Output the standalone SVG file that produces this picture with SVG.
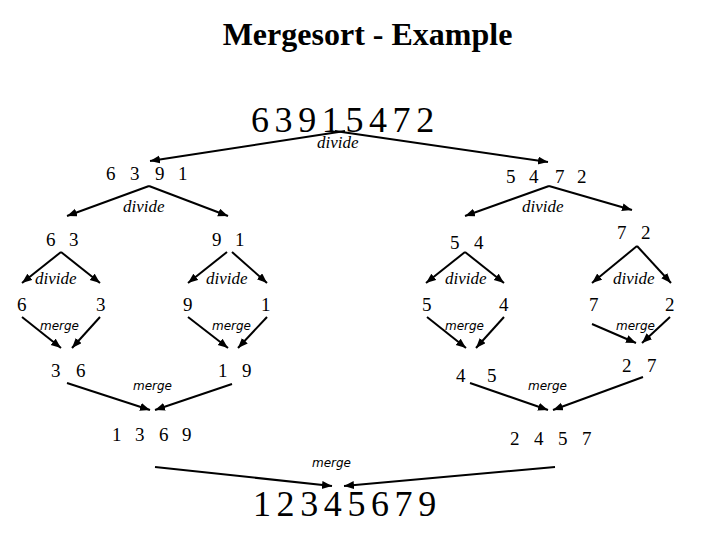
<svg xmlns="http://www.w3.org/2000/svg" width="720" height="540" viewBox="0 0 720 540">
<style>
.t{font-family:"Liberation Serif","Times New Roman",serif;fill:#000}
.n{font-family:"Liberation Serif","Times New Roman",serif;font-size:19px;fill:#000}
.big{font-family:"Liberation Serif","Times New Roman",serif;font-size:36px;letter-spacing:5.6px;fill:#000}
.dv{font-family:"Liberation Serif","Times New Roman",serif;font-style:italic;font-size:17px;fill:#000}
.mg{font-family:"DejaVu Sans","Verdana",sans-serif;font-style:italic;font-size:12px;fill:#000}
.c line{stroke:#000;stroke-width:2;marker-end:url(#ah)}
</style>
<defs>
<marker id="ah" markerUnits="userSpaceOnUse" markerWidth="12" markerHeight="10" refX="10" refY="4" orient="auto">
<path d="M0,0 L10,4 L0,8 Z" fill="#000"/>
</marker>
</defs>
<rect width="720" height="540" fill="#fff"/>
<text class="t" x="367.5" y="45" text-anchor="middle" font-size="32" font-weight="bold">Mergesort - Example</text>

<g class="c" id="connectors">
<line x1="345" y1="131" x2="150" y2="161"/>
<line x1="335" y1="131" x2="548" y2="162"/>
<line x1="149" y1="186" x2="67" y2="216"/>
<line x1="149" y1="186" x2="228" y2="216"/>
<line x1="549" y1="186" x2="465" y2="216"/>
<line x1="549" y1="186" x2="632" y2="210"/>
<line x1="61" y1="252" x2="22" y2="283"/>
<line x1="61" y1="252" x2="100" y2="283"/>
<line x1="227" y1="252" x2="188" y2="283"/>
<line x1="232" y1="252" x2="267" y2="283"/>
<line x1="465" y1="252" x2="426" y2="283"/>
<line x1="465" y1="252" x2="504" y2="283"/>
<line x1="637" y1="246" x2="592" y2="283"/>
<line x1="637" y1="246" x2="671" y2="283"/>
<line x1="22" y1="317" x2="61" y2="348"/>
<line x1="100" y1="317" x2="72" y2="348"/>
<line x1="188" y1="317" x2="228" y2="348"/>
<line x1="267" y1="317" x2="238" y2="348"/>
<line x1="427" y1="317" x2="466" y2="348"/>
<line x1="504" y1="317" x2="476" y2="348"/>
<line x1="592" y1="324" x2="636" y2="343"/>
<line x1="670" y1="317" x2="642" y2="343"/>
<line x1="67" y1="383" x2="150" y2="410"/>
<line x1="232" y1="384" x2="155" y2="410"/>
<line x1="470" y1="383" x2="548" y2="410"/>
<line x1="643" y1="377" x2="553" y2="410"/>
<line x1="155" y1="467" x2="332" y2="486"/>
<line x1="555" y1="467" x2="344" y2="486"/>
</g>

<g id="labels">
<text class="dv" x="317" y="148">divide</text>
<text class="dv" x="123" y="212">divide</text>
<text class="dv" x="522" y="212">divide</text>
<text class="dv" x="35" y="284">divide</text>
<text class="dv" x="206" y="284">divide</text>
<text class="dv" x="445" y="284">divide</text>
<text class="dv" x="613" y="284">divide</text>
<text class="mg" x="40" y="330">merge</text>
<text class="mg" x="212" y="330">merge</text>
<text class="mg" x="445" y="330">merge</text>
<text class="mg" x="616" y="330">merge</text>
<text class="mg" x="133" y="390">merge</text>
<text class="mg" x="528" y="390">merge</text>
<text class="mg" x="312" y="467">merge</text>
</g>

<g id="root"><text class="big" x="251" y="132">63915472</text></g>
<g id="n6391"><text class="n" x="106 130 155 178" y="180">6391</text></g>
<g id="n5472"><text class="n" x="506 529 555 577" y="183">5472</text></g>
<g id="n63"><text class="n" x="46 69" y="246">63</text></g>
<g id="n91"><text class="n" x="212 235" y="246">91</text></g>
<g id="n54"><text class="n" x="450 474" y="249">54</text></g>
<g id="n72"><text class="n" x="617 641" y="239">72</text></g>
<g id="n6"><text class="n" x="17" y="311">6</text></g>
<g id="n3"><text class="n" x="96" y="311">3</text></g>
<g id="n9"><text class="n" x="183" y="311">9</text></g>
<g id="n1"><text class="n" x="261" y="311">1</text></g>
<g id="n5"><text class="n" x="422" y="311">5</text></g>
<g id="n4"><text class="n" x="499" y="311">4</text></g>
<g id="n7"><text class="n" x="589" y="311">7</text></g>
<g id="n2"><text class="n" x="665" y="311">2</text></g>
<g id="n36"><text class="n" x="51 76" y="377">36</text></g>
<g id="n19"><text class="n" x="218 242" y="377">19</text></g>
<g id="n45"><text class="n" x="456 487" y="382">45</text></g>
<g id="n27"><text class="n" x="622 647" y="372">27</text></g>
<g id="n1369"><text class="n" x="112 135 159 182" y="441">1369</text></g>
<g id="n2457"><text class="n" x="510 534 558 582" y="445">2457</text></g>
<g id="result"><text class="big" x="253" y="516">12345679</text></g>
</svg>
